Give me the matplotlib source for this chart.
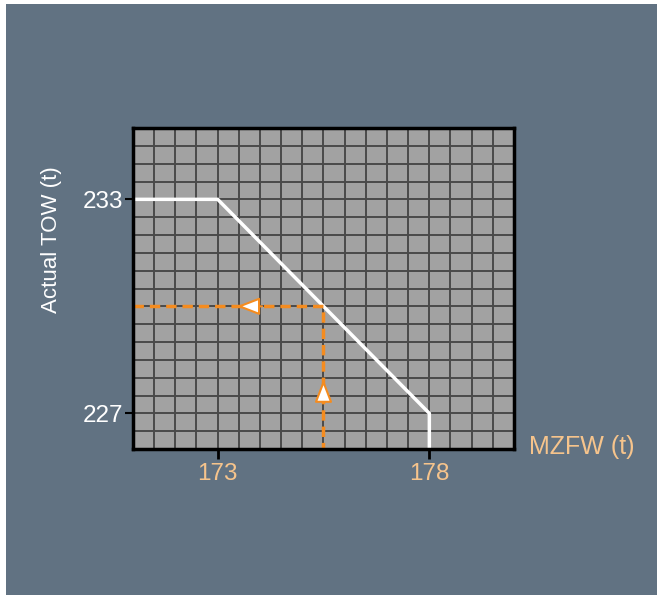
import matplotlib
matplotlib.use("Agg")
import matplotlib.pyplot as plt
from matplotlib.patches import Rectangle
import numpy as np

# Data
limit_x = [171, 173, 178, 178]
limit_y = [233, 233, 227, 226]
example_mzfw = 175.5
example_tow = 230
x_ticks = [173, 178]
y_ticks = [227, 233]
x_range = [171, 180]
y_range = [226, 235]

BG = "#617282"
FACE = "#a2a2a2"
GRID = "#4a4a4a"
ORANGE = "#f58c1f"
TICKLBL = "#f6c48c"

plt.rcParams['font.family'] = ['Liberation Sans', 'DejaVu Sans']

fig = plt.figure(figsize=(6.58, 5.95), dpi=100, facecolor="white")
fig.patches.append(Rectangle((6/658, 0), 1 - 7/658, 1 - 4/595, transform=fig.transFigure,
                             facecolor=BG, edgecolor="none", zorder=-10))

ax = fig.add_axes([133/658, 1 - 449/595, 381/658, 321/595])
ax.set_facecolor(FACE)
ax.set_xlim(*x_range)
ax.set_ylim(*y_range)

# grid
for gx in np.arange(x_range[0], x_range[1] + 0.01, 0.5):
    ax.axvline(gx, color=GRID, lw=1.4, zorder=1)
for gy in np.arange(y_range[0], y_range[1] + 0.01, 0.5):
    ax.axhline(gy, color=GRID, lw=1.4, zorder=1)

# limit line
ax.plot(limit_x, limit_y, color="white", lw=2.5, zorder=3, solid_joinstyle="miter")

# example dashed lines
ax.plot([x_range[0], example_mzfw, example_mzfw], [example_tow, example_tow, y_range[0]],
        color=ORANGE, lw=2.5, dashes=(3, 1.7), zorder=4)

# arrows
arrowprops = dict(arrowstyle="-|>,head_length=0.7,head_width=0.27", facecolor="white",
                  edgecolor=ORANGE, lw=1.5, shrinkA=0, shrinkB=0, mutation_scale=20)
ax.annotate("", xy=(173.45, example_tow), xytext=(174.05, example_tow),
            arrowprops=arrowprops, zorder=5)
ax.annotate("", xy=(example_mzfw, 227.95), xytext=(example_mzfw, 227.3),
            arrowprops=arrowprops, zorder=5)

for s in ax.spines.values():
    s.set_color("black")
    s.set_linewidth(2.5)
    s.set_zorder(6)

ax.set_xticks(x_ticks)
ax.set_yticks(y_ticks)
ax.tick_params(axis="x", colors="black", length=7, width=2, labelcolor=TICKLBL,
               labelsize=17.5, pad=3)
ax.tick_params(axis="y", colors="black", length=6, width=1.5, labelcolor="white",
               labelsize=17.5, pad=1)

fig.text(582/658, 1 - 447/595, "MZFW (t)", color=TICKLBL, fontsize=18,
         ha="center", va="center")
fig.text(52/658, 1 - 240/595, "Actual TOW (t)", color="white", fontsize=16,
         family=['Liberation Sans Narrow', 'Liberation Sans', 'DejaVu Sans'],
         ha="center", va="center", rotation=90)

fig.savefig("out.png", dpi=100, facecolor=fig.get_facecolor())
